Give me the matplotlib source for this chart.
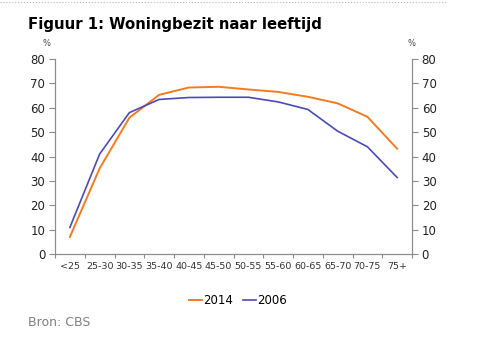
import numpy as np
import matplotlib
matplotlib.use("Agg")
import matplotlib.pyplot as plt
from matplotlib.lines import Line2D

plt.rcParams['font.family'] = 'DejaVu Sans'

# Data
age_groups = ['<25', '25-30', '30-35', '35-40', '40-45', '45-50',
              '50-55', '55-60', '60-65', '65-70', '70-75', '75+']
own_2014 = [7.0, 35.1, 55.9, 65.3, 68.3, 68.6, 67.5, 66.5, 64.5, 61.8, 56.3, 43.2]
own_2006 = [10.9, 41.0, 58.0, 63.4, 64.2, 64.3, 64.3, 62.4, 59.3, 50.4, 44.0, 31.4]
y_ticks = [0, 10, 20, 30, 40, 50, 60, 70, 80]

orange = '#f47b20'
blue = '#4b4bb5'
grey = '#8c8c8c'

fig = plt.figure(figsize=(4.85, 3.44), dpi=100)
ax = fig.add_axes([55 / 485, 1 - 254 / 344, 357 / 485, 195 / 344])

x = np.arange(len(age_groups))
ax.plot(x, own_2014, color=orange, lw=1.4)
ax.plot(x, own_2006, color=blue, lw=1.2)

ax.set_xlim(-0.5, len(age_groups) - 0.5)
ax.set_ylim(0, 80)

# category labels at centres, ticks at the boundaries
ax.set_xticks(x)
ax.set_xticklabels(age_groups, fontsize=6.8, color='#333333')
ax.set_xticks(np.arange(-0.5, len(age_groups)), minor=True)
ax.tick_params(axis='x', which='major', length=0, pad=6)
ax.tick_params(axis='x', which='minor', length=3, color=grey, width=0.8)

ax.set_yticks(y_ticks)
ax.tick_params(axis='y', which='major', length=4, color=grey, width=0.8,
               labelsize=8.5, labelcolor='#222222', pad=3)

ax2 = ax.twinx()
ax2.set_ylim(0, 80)
ax2.set_yticks(y_ticks)
ax2.tick_params(axis='y', length=4, color=grey, width=0.8,
                labelsize=8.5, labelcolor='#222222', pad=3)

for a in (ax, ax2):
    a.spines['top'].set_visible(False)
    for s in ('left', 'right', 'bottom'):
        a.spines[s].set_color(grey)
        a.spines[s].set_linewidth(0.8)

fig.text(28 / 485, 1 - 25 / 344, 'Figuur 1: Woningbezit naar leeftijd',
         fontsize=10.7, fontweight='bold', color='black', va='center', ha='left')
fig.text(47 / 485, 1 - 44 / 344, '%', fontsize=6, color='#444444', ha='center', va='center')
fig.text(412 / 485, 1 - 44 / 344, '%', fontsize=6, color='#444444', ha='center', va='center')

handles = [Line2D([], [], color=orange, lw=1.4), Line2D([], [], color=blue, lw=1.2)]
fig.legend(handles, ['2014', '2006'], loc='center', bbox_to_anchor=(238 / 485, 1 - 301 / 344),
           ncol=2, frameon=False, fontsize=8.5, handlelength=1.1, handletextpad=0.1,
           columnspacing=0.8)

fig.text(28 / 485, 1 - 323 / 344, 'Bron: CBS', fontsize=9, color='#808080',
         ha='left', va='center')

# dotted frame line at the top
fig.add_artist(Line2D([0, 447 / 485], [1 - 1.5 / 344, 1 - 1.5 / 344], color='#bbbbbb',
                      lw=0.8, ls=':', transform=fig.transFigure))

fig.savefig('out.png', dpi=100)
